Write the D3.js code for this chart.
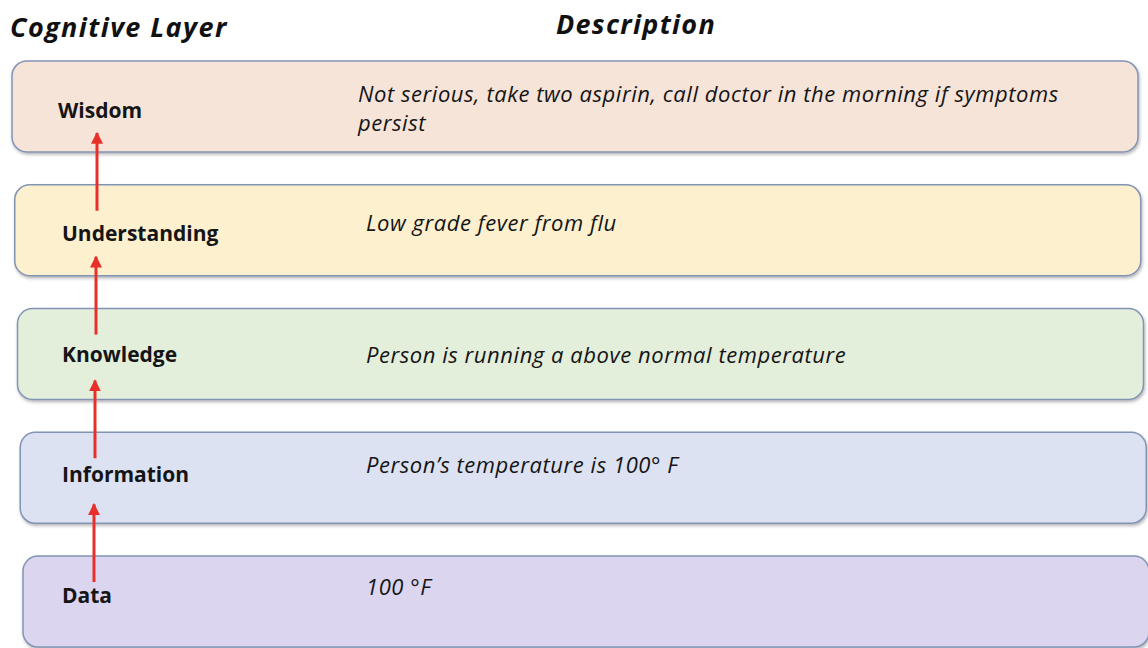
<!DOCTYPE html>
<html><head><meta charset="utf-8">
<script src="https://cdn.jsdelivr.net/npm/d3@7"></script>
<style>html,body{margin:0;padding:0;background:#fff;overflow:hidden}</style>
</head><body>
<script>
const layers = ["Wisdom","Understanding","Knowledge","Information","Data"];
const descriptions = [
  ["Not serious, take two aspirin, call doctor in the morning if symptoms","persist"],
  ["Low grade fever from flu"],
  ["Person is running a above normal temperature"],
  ["Person\u2019s temperature is 100\u00B0 F"],
  ["100 \u00B0F"]
];
const fills = ["#f6e4d9","#fcf0cf","#e3eedb","#dce2f1","#dbd5f0"];
const headers = ["Cognitive Layer","Description"];

const W=1148,H=648;
// layout tweaks (photo perspective)
const labelDy=[57,56,53,50,47];
const descDy=[41,46,54,41,39];

const svg=d3.select("body").append("svg").attr("width",W).attr("height",H);
const defs=svg.append("defs");
const f=defs.append("filter").attr("id","sh").attr("x","-5%").attr("y","-20%").attr("width","110%").attr("height","150%");
f.append("feDropShadow").attr("dx",1).attr("dy",2).attr("stdDeviation",1.5).attr("flood-color","#333").attr("flood-opacity",0.35);
defs.append("marker").attr("id","ah").attr("viewBox","0 0 10 10").attr("refX",9).attr("refY",5)
  .attr("markerWidth",4).attr("markerHeight",4).attr("orient","auto")
  .append("path").attr("d","M0,0L10,5L0,10z").attr("fill","#e8302a");

const y=d3.scaleBand().domain(layers).range([61,647]).paddingInner(0.265).paddingOuter(0);
const idx=d3.scaleLinear().domain([0,layers.length-1]);
const left=idx.copy().range([12,23]);
const right=idx.copy().range([1138,1149]);
const font="'Open Sans', Lato, sans-serif";

svg.append("text").attr("x",10).attr("y",37).text(headers[0])
  .attr("font-family",font).attr("font-weight",700).attr("font-style","italic").attr("font-size",27)
  .attr("letter-spacing",1.4).attr("fill","#111");
svg.append("text").attr("x",636).attr("y",34).attr("text-anchor","middle").text(headers[1])
  .attr("font-family",font).attr("font-weight",700).attr("font-style","italic").attr("font-size",27)
  .attr("letter-spacing",1.3).attr("fill","#111");

const g=svg.selectAll("g.row").data(layers).join("g").attr("class","row");
g.append("rect")
  .attr("x",(d,i)=>left(i)).attr("y",d=>y(d))
  .attr("width",(d,i)=>right(i)-left(i)).attr("height",y.bandwidth())
  .attr("rx",15).attr("ry",15)
  .attr("fill",(d,i)=>fills[i]).attr("stroke","#8294b4").attr("stroke-width",1.5)
  .attr("filter","url(#sh)");
g.append("text").attr("x",(d,i)=>i===0?58:62).attr("y",(d,i)=>y(d)+labelDy[i]).text(d=>d)
  .attr("font-family",font).attr("font-weight",700).attr("font-size",21).attr("fill","#151515");
g.each(function(d,i){
  const t=d3.select(this).append("text").attr("font-family",font).attr("font-style","italic")
    .attr("font-weight",500).attr("font-size",22).attr("letter-spacing",0.55).attr("fill","#151515");
  descriptions[i].forEach((line,j)=>{
    t.append("tspan").attr("x",i===0?358:366).attr("y",y(d)+descDy[i]+j*29).text(line);
  });
});

// arrows from each layer up to the next
const ax=idx.copy().range([97,93]);
for(let i=1;i<layers.length;i++){
  svg.append("line").attr("x1",ax(i-1)).attr("x2",ax(i-1))
    .attr("y1",y(layers[i])+26).attr("y2",y(layers[i-1])+72)
    .attr("stroke","#e8302a").attr("stroke-width",3).attr("marker-end","url(#ah)");
}
</script>
</body></html>
